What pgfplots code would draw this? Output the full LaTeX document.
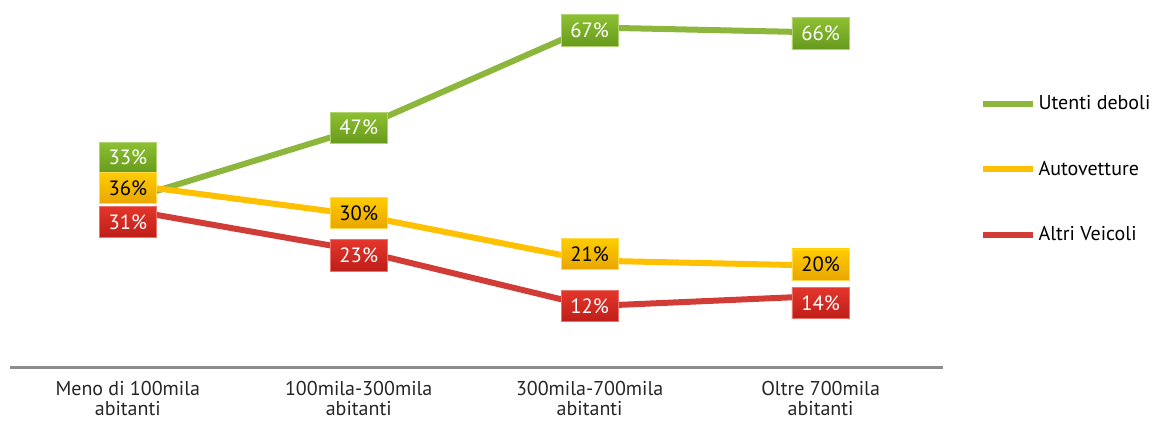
\documentclass[border=0pt]{standalone}
\usepackage{pgfplots}
\pgfplotsset{compat=1.18}
\usepackage{pgfplotstable}
\usepackage{fontspec}
\setmainfont{PT Sans}

\definecolor{verdeLinea}{HTML}{8DB63C}
\definecolor{verdeTop}{HTML}{8EC033}
\definecolor{verdeBot}{HTML}{679A1C}
\definecolor{gialloLinea}{HTML}{FFC000}
\definecolor{gialloTop}{HTML}{FFCC00}
\definecolor{gialloBot}{HTML}{E9A600}
\definecolor{rossoLinea}{HTML}{D23C36}
\definecolor{rossoTop}{HTML}{E3362C}
\definecolor{rossoBot}{HTML}{BE1E18}
\definecolor{asse}{HTML}{8C8C8C}

% x = category index, y = share (%), dy = vertical offset of the value box (pt)
\pgfplotstableread{
x y dy
0 33 31.5
1 47 0.75
2 67 -2.25
3 66 -0.75
}\deboli
\pgfplotstableread{
x y dy
0 36 -2.6
1 30 1.5
2 21 4.9
3 20 0.75
}\auto
\pgfplotstableread{
x y dy
0 31 -9
1 23 -3.75
2 12 0
3 14 -5.25
}\altri

\pgfplotsset{
  valuebox/.style n args={3}{
    nodes near coords={\pgfmathprintnumber{\pgfplotspointmeta}\%},
    point meta=explicit,
    visualization depends on={\thisrow{dy}\as\dy},
    every node near coord/.append style={
      anchor=center, yshift=\dy pt,
      shade, top color=#1, bottom color=#2, draw=#1!70!white, line width=0.6pt,
      text=#3, minimum width=43pt, minimum height=23.5pt, inner sep=1pt,
      font=\fontsize{15.5}{17}\selectfont
    },
  },
}

\begin{document}
\begin{tikzpicture}
\begin{axis}[
  scale only axis,
  width=699.75pt, height=275.25pt,
  xmin=-0.51, xmax=3.53, ymin=0, ymax=72.4,
  clip=false,
  axis y line=none,
  axis x line*=bottom,
  x axis line style={draw=asse, line width=2.25pt, -},
  xtick={0,1,2,3},
  major tick length=0pt,
  xticklabels={{Meno di 100mila\\abitanti},{100mila-300mila\\abitanti},{300mila-700mila\\abitanti},{Oltre 700mila\\abitanti}},
  xticklabel style={align=center, text=black!85, font=\fontsize{15}{15}\selectfont, yshift=-7pt},
  /pgf/number format/assume math mode=true,
  legend style={draw=none, fill=none, at={(axis description cs:1.035,0.755)}, anchor=north west,
    row sep=33pt, font=\fontsize{15}{17}\selectfont, cells={anchor=west}},
  legend image code/.code={\draw[#1, line width=4.5pt] (0pt,0pt) -- (37.5pt,0pt);},
]
\addplot[verdeLinea, line width=4.5pt, no markers, valuebox={verdeTop}{verdeBot}{white}]
  table[x=x, y=y, meta=y] {\deboli};
\addlegendentry{Utenti deboli}
\addplot[gialloLinea, line width=4.5pt, no markers, valuebox={gialloTop}{gialloBot}{black}]
  table[x=x, y=y, meta=y] {\auto};
\addlegendentry{Autovetture}
\addplot[rossoLinea, line width=4.5pt, no markers, valuebox={rossoTop}{rossoBot}{white}]
  table[x=x, y=y, meta=y] {\altri};
\addlegendentry{Altri Veicoli}
\end{axis}
\pgfresetboundingbox
\path[use as bounding box] (current axis.south west) ++(-7.5pt,-40.5pt) rectangle ++(870pt,315.75pt);
\end{tikzpicture}
\end{document}
